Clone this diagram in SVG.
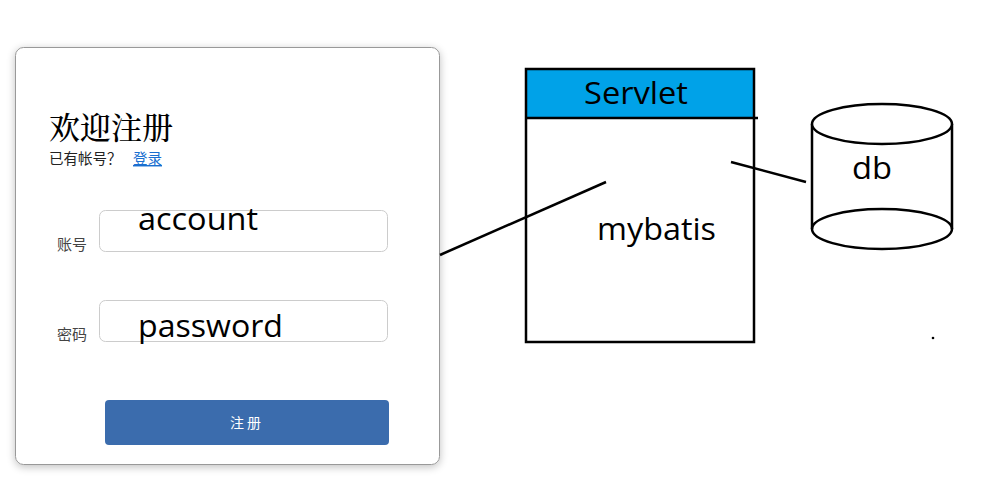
<svg xmlns="http://www.w3.org/2000/svg" width="981" height="499" viewBox="0 0 981 499">
<defs>
<filter id="sh" x="-10%" y="-10%" width="120%" height="120%">
<feGaussianBlur in="SourceAlpha" stdDeviation="4"/>
<feOffset dx="0" dy="2"/>
<feComponentTransfer><feFuncA type="linear" slope="0.25"/></feComponentTransfer>
<feMerge><feMergeNode/><feMergeNode in="SourceGraphic"/></feMerge>
</filter>
</defs>
<style>
.big{font-family:"Open Sans","Noto Sans",sans-serif;font-size:31px;fill:#000}
.cjk{font-family:"Noto Sans CJK SC",sans-serif}
.lbl{font-family:"Noto Sans CJK SC",sans-serif;font-size:15px;fill:#444}
.inp{fill:#fff;stroke:#ccc;stroke-width:1}
.edge{stroke:#000;stroke-width:2.5;fill:none}
.shape{stroke:#000;stroke-width:2.5}
</style>
<rect width="981" height="499" fill="#fff"/>
<g id="form">
<rect x="15.5" y="47.5" width="424" height="417" rx="8" fill="#fff" stroke="#999" stroke-width="1" filter="url(#sh)"/>
<text x="49" y="139" font-family="Noto Serif CJK SC,Noto Sans CJK SC,serif" font-size="31" font-weight="500" fill="#000">欢迎注册</text>
<text x="49" y="164" class="cjk" font-size="14.5" fill="#222">已有帐号？</text>
<text x="133" y="164" class="cjk" font-size="14.5" fill="#1a6fd0" text-decoration="underline">登录</text>
<text x="57" y="250" class="lbl">账号</text>
<rect x="99.5" y="210.5" width="288" height="41" rx="6" class="inp"/>
<text x="138" y="230" class="big" textLength="120" lengthAdjust="spacingAndGlyphs">account</text>
<text x="57" y="340" class="lbl">密码</text>
<rect x="99.5" y="300.5" width="288" height="41" rx="6" class="inp"/>
<text x="138" y="337" class="big" textLength="145" lengthAdjust="spacingAndGlyphs">password</text>
<rect x="105" y="400" width="284" height="45" rx="4" fill="#3b6cad"/>
<text x="247" y="428" class="cjk" font-size="14" fill="#fff" text-anchor="middle" letter-spacing="3">注册</text>
</g>
<g id="servlet">
<rect x="526" y="69" width="228" height="49" fill="#00a2e8"/>
<rect x="526" y="69" width="228" height="273" fill="none" class="shape"/>
<line x1="526" y1="118" x2="758" y2="118" class="shape"/>
<text x="636" y="104" class="big" text-anchor="middle" textLength="104" lengthAdjust="spacingAndGlyphs">Servlet</text>
<text x="597" y="240" class="big" textLength="119" lengthAdjust="spacingAndGlyphs">mybatis</text>
</g>
<g id="db">
<path d="M812,124 V229 M952,124 V229" class="shape" fill="none"/>
<ellipse cx="882" cy="124" rx="70" ry="20" fill="#fff" class="shape"/>
<path d="M812,229 A70,20 0 0 1 952,229 A70,20 0 0 1 812,229 Z" fill="none" class="shape"/>
<text x="852" y="179" class="big" textLength="40" lengthAdjust="spacingAndGlyphs">db</text>
</g>
<g id="connectors">
<line x1="440" y1="255" x2="606" y2="182" class="edge"/>
<line x1="731" y1="162" x2="806" y2="182" class="edge"/>
</g>
<circle cx="933" cy="338" r="1.3" fill="#000"/>
</svg>
